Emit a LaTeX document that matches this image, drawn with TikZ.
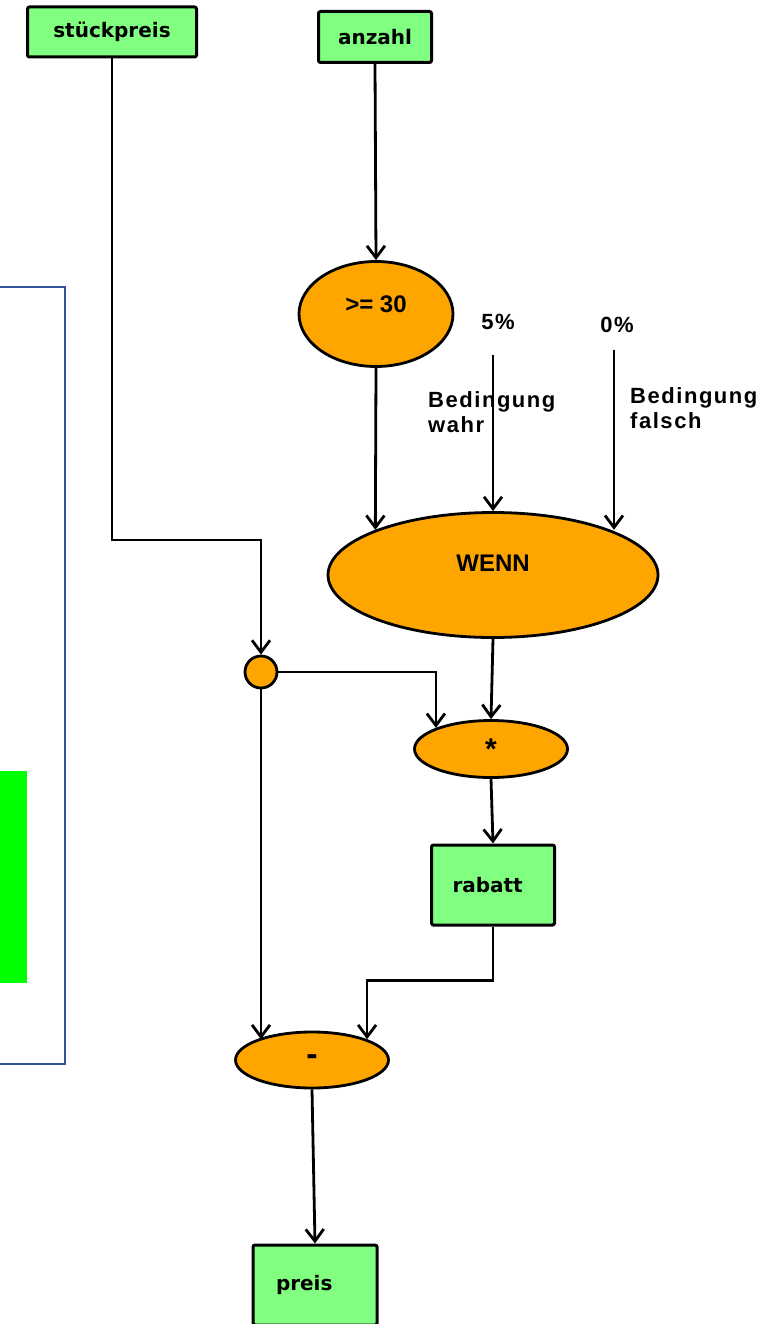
\documentclass[tikz,border=0pt]{standalone}
\usepackage{fontspec}
\setmainfont{Liberation Sans}
\newfontfamily\boxfont{DejaVu Sans}
\newfontfamily\notefont{Liberation Sans}[LetterSpace=7]
\usepackage{xcolor}
\usetikzlibrary{shapes.geometric, arrows.meta, positioning}
\definecolor{varfill}{HTML}{80FF80}
\definecolor{opfill}{HTML}{FFA500}
\definecolor{framecol}{HTML}{3050A0}
\definecolor{barfill}{HTML}{00FF00}

\begin{document}
\begin{tikzpicture}[
    x=1pt, y=-1pt,
    var/.style={rectangle, draw, fill=varfill, line width=3pt, rounded corners=2pt, inner sep=0pt, font=\boxfont\bfseries\fontsize{20}{22}\selectfont},
    op/.style={ellipse, draw, fill=opfill, line width=2.8pt, inner sep=0pt, font=\bfseries\fontsize{24}{26}\selectfont},
    note/.style={align=left, inner sep=0pt, font=\notefont\bfseries\fontsize{22}{25}\selectfont},
    arrow/.style={line width=2.8pt, -{Straight Barb[length=12pt, width=18pt]}},
]
\useasboundingbox (0,0) rectangle (763,1324);

% Side panel
\draw[framecol, line width=2.5pt] (-5,287) rectangle (65,1064);
\fill[barfill] (-5,771) rectangle (27,983);

% Inputs
\node[var, minimum width=169pt, minimum height=50pt] (stueck) at (112,32) {stückpreis};
\node[var, minimum width=113pt, minimum height=51pt] (anzahl) at (375,37) {anzahl};

% Operations
\node[op, minimum width=154pt, minimum height=105pt, text depth=20pt] (ge) at (376,314) {>= 30};
\node[op, minimum width=330pt, minimum height=125pt, text depth=24pt] (wenn) at (493,575) {WENN};
\node[circle, draw, fill=opfill, line width=2.8pt, minimum size=32pt, inner sep=0pt] (knot) at (261,672) {};
\node[op, minimum width=153pt, minimum height=57pt, font=\bfseries\fontsize{30}{30}\selectfont] (mul) at (491,749) {*};
\node[op, minimum width=153pt, minimum height=56pt, font=\bfseries\fontsize{34}{34}\selectfont] (minus) at (312,1060) {-};

% Results
\node[var, minimum height=80pt, inner xsep=21pt, text width=81pt, align=left] (rabatt) at (493,885) {rabatt};
\node[var, minimum height=80pt, inner xsep=23pt, text width=78pt, align=left] (preis) at (315,1285) {preis};

% Labels
\node[note] (p5) at (498,322) {5\%};
\node[note] (p0) at (617,325) {0\%};
\node[note, anchor=north west] (wahr) at (428,391) {Bedingung\\wahr};
\node[note, anchor=north west] (falsch) at (630,387) {Bedingung\\falsch};
\coordinate (in5) at (493,355);
\coordinate (in0) at (614,350);
\coordinate (kink) at (261,540);

% Arrows
\draw[arrow] (stueck.south) |- (kink) -- (knot.north);
\draw[arrow] (anzahl.south) -- (ge.north);
\draw[arrow] (ge.south) -- (wenn.north west);
\draw[arrow] (in5) -- (wenn.north);
\draw[arrow] (in0) -- (in0 |- wenn.north east);
\draw[arrow] (wenn.south) -- (mul.north);
\draw[arrow] (knot.east) -| (mul.north west);
\draw[arrow] (mul.south) -- (rabatt.north);
\draw[arrow] (knot.south) -- (knot.south |- minus.north west);
\draw[arrow] (rabatt.south) -- ++(0,54) -| (minus.north east);
\draw[arrow] (minus.south) -- (preis.north);

\end{tikzpicture}
\end{document}
